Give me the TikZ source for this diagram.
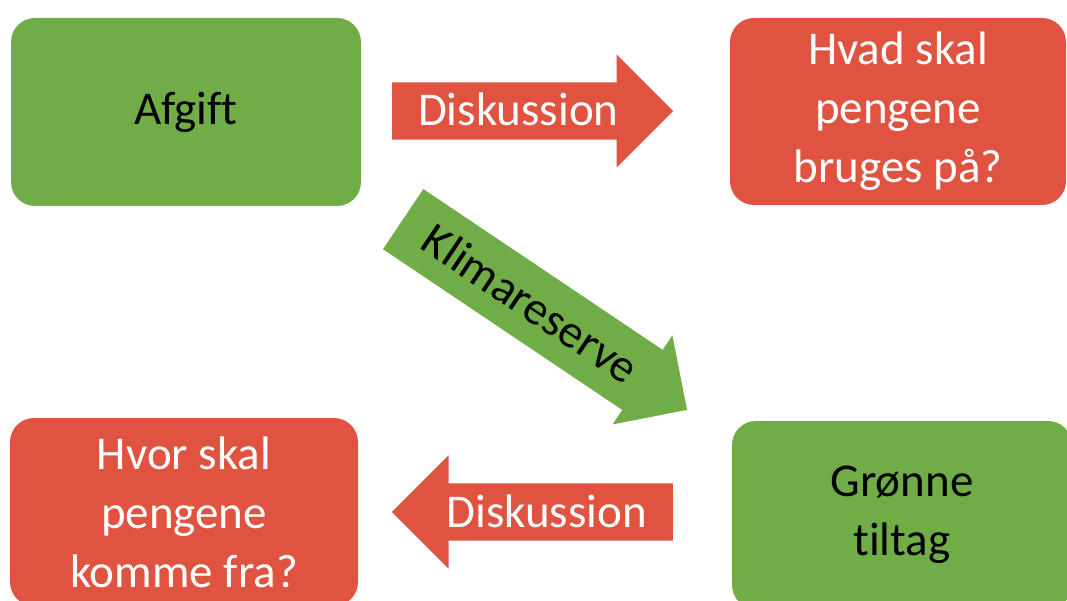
\documentclass[tikz,border=0pt]{standalone}
\usepackage{fontspec}
\setmainfont{Carlito}[Ligatures=CommonOff]
\usepackage{xcolor}
\usetikzlibrary{shapes.arrows}
\definecolor{boxgreen}{RGB}{112,173,71}
\definecolor{boxred}{RGB}{224,83,64}
\tikzset{
    boxnode/.style = {align=center, inner sep=0pt, text centered, rounded corners=24pt, font=\fontsize{47}{59}\selectfont},
    green_box/.style = {boxnode, fill=boxgreen, text=black},
    red_box/.style = {boxnode, fill=boxred, text=white},
    block_arrow/.style = {single arrow, inner sep=0pt, minimum width=0pt, font=\fontsize{47}{59}\selectfont},
    red_arrow/.style = {block_arrow, fill=boxred, text=white, text height=43.5pt, text depth=13.5pt, single arrow head extend=28pt},
    green_arrow/.style = {block_arrow, fill=boxgreen, text=black, text height=51pt, text depth=21pt, single arrow head extend=17.5pt}
}
\begin{document}
\begin{tikzpicture}[x=1pt, y=-1pt]
    \useasboundingbox (0,0) rectangle (1067,601);
    % boxes
    \node [green_box, minimum width=350pt, minimum height=188pt] (afgift) at (186,112) {Afgift};
    \node [red_box, minimum width=336pt, minimum height=187pt] (bruges) at (898,111.5) {Hvad skal\\pengene\\bruges på?};
    \node [red_box, minimum width=348pt, minimum height=188pt] (komme) at (184,512) {Hvor skal\\pengene\\komme fra?};
    \node [green_box, minimum width=340pt, minimum height=188pt] (groenne) at (902,515) {Grønne\\tiltag};
    % block arrows
    \node [red_arrow, minimum height=281pt, anchor=tail] (disk_top) at (392,111) {Diskussion};
    \node [green_arrow, minimum height=342pt, anchor=tail, rotate=-33.9] (klima) at (403,219) {Klimareserve};
    \node [red_arrow, minimum height=281pt, anchor=tail, shape border rotate=180] (disk_bottom) at (673,512) {Diskussion};
\end{tikzpicture}
\end{document}
